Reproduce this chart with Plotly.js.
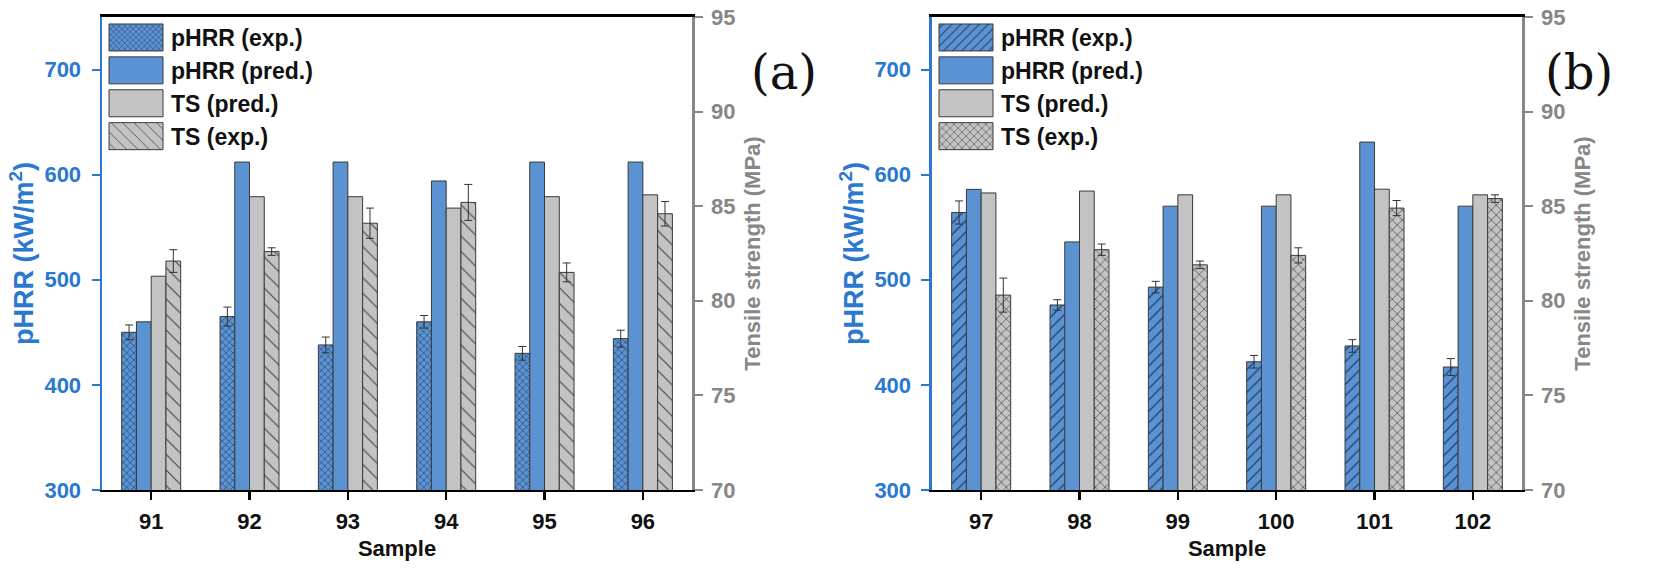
<!DOCTYPE html>
<html>
<head>
<meta charset="utf-8">
<script src="https://cdn.plot.ly/plotly-3.0.1.min.js"></script>
<style>html,body{margin:0;padding:0;background:#fff;}#chart{width:1656px;height:572px;}</style>
</head>
<body>
<div id="chart"></div>
<script>
// ---- Data ----
const catsA = ['91', '92', '93', '94', '95', '96'];
const phrrExpA = [450, 465, 438, 460, 430, 444];
const phrrExpErrA = [7, 9, 7.5, 6, 6.5, 8];
const phrrPredA = [460, 612, 612, 594, 612, 612];
const tsPredA = [81.3, 85.5, 85.5, 84.9, 85.5, 85.6];
const tsExpA = [82.1, 82.6, 84.1, 85.2, 81.5, 84.6];
const tsExpErrA = [0.6, 0.2, 0.8, 0.95, 0.5, 0.65];

const catsB = ['97', '98', '99', '100', '101', '102'];
const phrrExpB = [564, 476, 493, 422, 437, 417];
const phrrExpErrB = [11, 5, 5.5, 6, 6, 8];
const phrrPredB = [586, 536, 570, 570, 631, 570];
const tsPredB = [85.7, 85.8, 85.6, 85.6, 85.9, 85.6];
const tsExpB = [80.3, 82.7, 81.9, 82.4, 84.9, 85.4];
const tsExpErrB = [0.9, 0.3, 0.2, 0.4, 0.4, 0.2];

const seriesNames = ['pHRR (exp.)', 'pHRR (pred.)', 'TS (pred.)', 'TS (exp.)'];
const leftTicks = [300, 400, 500, 600, 700];
const rightTicks = [70, 75, 80, 85, 90, 95];

// ---- Styles ----
const FONT = 'Liberation Sans, Arial, sans-serif';
const BLUE = '#5b93d2';
const AXBLUE = '#2a78d0';
const GRAY = '#c3c3c3';
const AXGRAY = '#878787';
const EDGE = '#3a3a3a';
const W = 0.15;
const OFF = [-0.3, -0.15, 0, 0.15];

function err(arr) {
  return {type: 'data', array: arr, visible: true, color: '#333', thickness: 1, width: 4};
}
function pat(shape, bg, fg, size, sol) {
  return {shape: shape, bgcolor: bg, fgcolor: fg, size: size, solidity: sol, fillmode: 'replace'};
}

function panel(cats, pe, pee, pp, tp, te, tee, xa, ya, ya2, lg, patPE, patTE) {
  return [
    {type: 'bar', x: cats, y: pe, name: seriesNames[0], xaxis: xa, yaxis: ya, legend: lg,
     width: W, offset: OFF[0], error_y: err(pee),
     marker: {color: BLUE, line: {color: EDGE, width: 1}, pattern: patPE}},
    {type: 'bar', x: cats, y: pp, name: seriesNames[1], xaxis: xa, yaxis: ya, legend: lg,
     width: W, offset: OFF[1],
     marker: {color: BLUE, line: {color: EDGE, width: 1}}},
    {type: 'bar', x: cats, y: tp, name: seriesNames[2], xaxis: xa, yaxis: ya2, legend: lg,
     width: W, offset: OFF[2],
     marker: {color: GRAY, line: {color: EDGE, width: 1}}},
    {type: 'bar', x: cats, y: te, name: seriesNames[3], xaxis: xa, yaxis: ya2, legend: lg,
     width: W, offset: OFF[3], error_y: err(tee),
     marker: {color: GRAY, line: {color: EDGE, width: 1}, pattern: patTE}}
  ];
}

const data = [].concat(
  panel(catsA, phrrExpA, phrrExpErrA, phrrPredA, tsPredA, tsExpA, tsExpErrA,
        'x', 'y', 'y2', 'legend',
        pat('x', BLUE, '#1d3c68', 5, 0.22), pat('\\', GRAY, '#444', 11, 0.1)),
  panel(catsB, phrrExpB, phrrExpErrB, phrrPredB, tsPredB, tsExpB, tsExpErrB,
        'x2', 'y3', 'y4', 'legend2',
        pat('/', BLUE, '#1d3c68', 8, 0.15), pat('x', GRAY, '#222', 7, 0.15))
);

const yDom = [0.1434, 0.9703];
function xAxis(dom, anchor) {
  return {
    domain: dom, anchor: anchor, type: 'category', range: [-0.5, 5.5],
    showline: true, linecolor: '#000', linewidth: 2.5, mirror: true,
    ticks: 'outside', ticklen: 8, tickwidth: 2.5, tickcolor: '#000', ticklabelstandoff: 2,
    tickfont: {family: FONT, size: 22, color: '#111', weight: 'bold'},
    showgrid: false, zeroline: false, fixedrange: true,
    title: {text: 'Sample', font: {family: FONT, size: 22, color: '#111', weight: 'bold'}, standoff: 8}
  };
}
function yLeft(anchor) {
  return {
    domain: yDom, anchor: anchor, range: [300, 750], tickvals: leftTicks,
    showline: true, linecolor: AXBLUE, linewidth: 2.5,
    ticks: 'outside', ticklen: 8, tickwidth: 2, tickcolor: AXBLUE, ticklabelstandoff: 6,
    tickfont: {family: FONT, size: 22, color: AXBLUE, weight: 'bold'},
    showgrid: false, zeroline: false,
    title: {text: 'pHRR (kW/m<sup>2</sup>)', font: {family: FONT, size: 27, color: AXBLUE, weight: 'bold'}, standoff: 3}
  };
}
function yRight(over, anchor) {
  return {
    overlaying: over, anchor: anchor, side: 'right', range: [70, 95], tickvals: rightTicks,
    showline: true, linecolor: AXGRAY, linewidth: 2.5,
    ticks: 'outside', ticklen: 8, tickwidth: 2, tickcolor: AXGRAY, ticklabelstandoff: 4,
    tickfont: {family: FONT, size: 22, color: AXGRAY, weight: 'bold'},
    showgrid: false, zeroline: false,
    title: {text: 'Tensile strength (MPa)', font: {family: FONT, size: 22, color: AXGRAY, weight: 'bold'}, standoff: 10}
  };
}

const legendBase = {
  yanchor: 'top', xanchor: 'left', y: 0.972,
  bgcolor: 'rgba(0,0,0,0)', borderwidth: 0, itemwidth: 60,
  font: {family: FONT, size: 23, color: '#111', weight: 'bold'},
  tracegroupgap: 0, traceorder: 'normal'
};

const layout = {
  width: 1656, height: 572,
  margin: {l: 0, r: 0, t: 0, b: 0, autoexpand: false},
  paper_bgcolor: '#fff', plot_bgcolor: 'rgba(0,0,0,0)',
  barmode: 'overlay', showlegend: true,
  xaxis: xAxis([0.0616, 0.4179], 'y'),
  yaxis: yLeft('x'),
  yaxis2: yRight('y', 'x'),
  xaxis2: xAxis([0.5628, 0.9191], 'y3'),
  yaxis3: yLeft('x2'),
  yaxis4: yRight('y3', 'x2'),
  legend: Object.assign({}, legendBase, {x: 0.061}),
  legend2: Object.assign({}, legendBase, {x: 0.5622}),
  annotations: [
    {text: '(a)', xref: 'paper', yref: 'paper', x: 0.4734, y: 0.9266, showarrow: false,
     font: {family: 'DejaVu Serif, Liberation Serif, serif', size: 48, color: '#111'}},
    {text: '(b)', xref: 'paper', yref: 'paper', x: 0.9752, y: 0.9266, showarrow: false,
     font: {family: 'DejaVu Serif, Liberation Serif, serif', size: 48, color: '#111'}}
  ]
};

Plotly.newPlot('chart', data, layout, {displayModeBar: false, staticPlot: true}).then(function (gd) {
  // enlarge the legend swatches to match the reference's big boxes
  gd.querySelectorAll('.legendpoints path').forEach(function (p) {
    p.setAttribute('d', 'M27,13.5H-27V-13.5H27Z');
  });
});
</script>
</body>
</html>
